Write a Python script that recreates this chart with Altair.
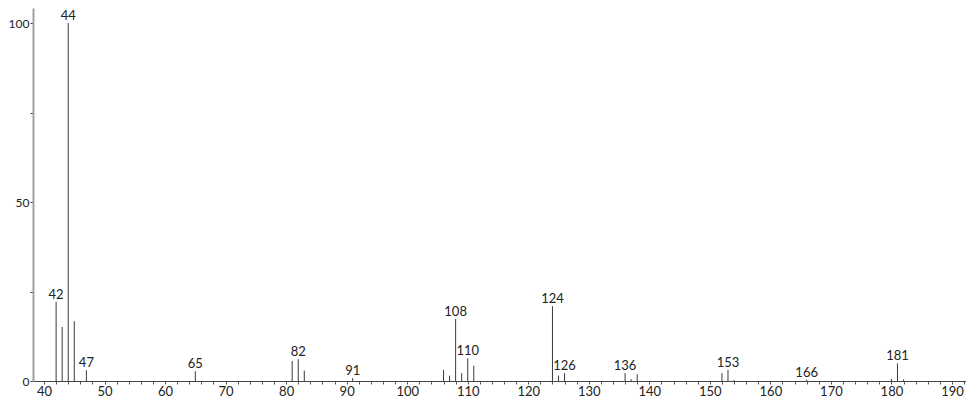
import altair as alt
import pandas as pd

mz = [42, 43, 44, 45, 47, 65, 81, 82, 83, 91, 106, 107, 108, 109, 110, 111,
      124, 125, 126, 136, 137, 138, 152, 153, 154, 166, 180, 181, 182]
rel = [22.1, 15.1, 100, 16.7, 3.0, 2.7, 5.6, 6.1, 2.9, 0.8, 3.1, 1.5, 17.3, 2.2, 6.3, 4.3,
       20.9, 1.5, 2.2, 2.2, 0.5, 1.9, 2.2, 3.1, 0.3, 0.4, 0.6, 4.9, 0.4]
labeled = [42, 44, 47, 65, 82, 91, 108, 110, 124, 126, 136, 153, 166, 181]

x_ticks = list(range(40, 193, 2))
y_ticks = [0, 25, 50, 75, 100]

df = pd.DataFrame({"mz": mz, "rel": rel})
df["label"] = [str(m) if m in labeled else "" for m in mz]

FONT = "Lato"

xs = alt.Scale(domain=[38.18, 192.32], nice=False, zero=False)
ys = alt.Scale(domain=[0, 104.2], nice=False)

x_axis = alt.Axis(
    values=x_ticks, title=None, grid=False,
    labelExpr="datum.value % 10 == 0 ? datum.label : ''",
    labelOverlap=False,
    tickSize=3, labelPadding=1, tickColor="#555", domainColor="#444",
    labelFont=FONT, labelFontSize=13, labelColor="#222", labelFlush=False)
y_axis = alt.Axis(
    values=y_ticks, title=None, grid=False,
    labelExpr="datum.value % 50 == 0 ? datum.label : ''",
    labelOverlap=False,
    tickSize=3, labelPadding=1, tickColor="#444", domainColor="#a0a0a0",
    domainWidth=2, labelFont=FONT, labelFontSize=12, labelColor="#222")

base = alt.Chart(df)

bars = base.mark_rule(color="#3a3a3a", strokeWidth=1).encode(
    x=alt.X("mz:Q", scale=xs, axis=x_axis),
    y=alt.Y("rel:Q", scale=ys, axis=y_axis),
    y2=alt.datum(0),
)

labels = base.mark_text(baseline="alphabetic", dy=-3, font=FONT, fontSize=13,
                        color="#222").encode(
    x=alt.X("mz:Q", scale=xs, axis=x_axis),
    y=alt.Y("rel:Q", scale=ys, axis=y_axis),
    text="label:N",
)

chart = (bars + labels).properties(
    width=933, height=373,
    autosize=alt.AutoSizeParams(type="none"),
    padding={"left": 25, "top": 0, "right": 0, "bottom": 17},
).configure_view(stroke=None).configure_axis(labelOverlap=False)

chart.save("out.html", embed_options={"renderer": "svg", "actions": False})
